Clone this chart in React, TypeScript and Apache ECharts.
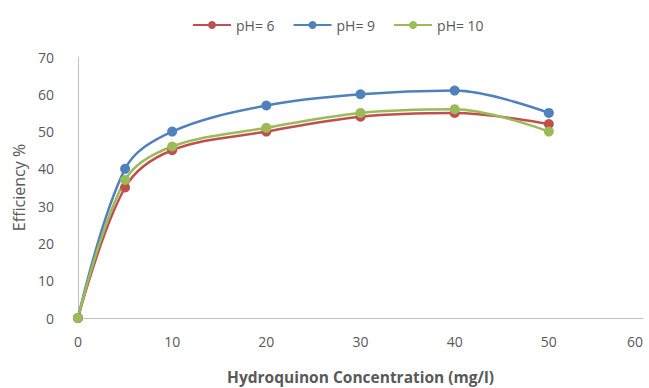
import React, { useEffect, useRef } from "react";
import * as echarts from "echarts";

// Hydroquinon concentration (mg/l)
const concentrations = [0, 5, 10, 20, 30, 40, 50];
// Removal efficiency (%) at each pH
const effPH6 = [0, 35, 45, 50, 54, 55, 52];
const effPH9 = [0, 40, 50, 57, 60, 61, 55];
const effPH10 = [0, 37, 46, 51, 55, 56, 50];

const seriesNames = ["pH= 6", "pH= 9", "pH= 10"];
const seriesColors = ["#C0504D", "#4F81BD", "#9BBB59"];

const FONT = "'Open Sans', 'Liberation Sans', sans-serif";
const TEXT = "#595959";

export default function App() {
  const ref = useRef<HTMLDivElement>(null);

  useEffect(() => {
    document.body.style.margin = "0";
    document.body.style.overflow = "hidden";
    if (!ref.current) return;
    const chart = echarts.init(ref.current, undefined, { renderer: "svg" });
    const all = [effPH6, effPH9, effPH10];
    chart.setOption({
      animation: false,
      backgroundColor: "#ffffff",
      textStyle: { fontFamily: FONT },
      legend: {
        top: 13,
        left: 187,
        itemWidth: 38,
        itemHeight: 10,
        itemGap: 18,
        textStyle: { color: TEXT, fontSize: 14, fontFamily: FONT },
        data: seriesNames,
      },
      grid: {
        left: 78,
        right: 6,
        top: 57,
        bottom: 70,
        containLabel: false,
        outerBoundsMode: "none",
      },
      xAxis: {
        type: "value",
        min: 0,
        max: 60,
        interval: 10,
        name: "Hydroquinon Concentration (mg/l)",
        nameLocation: "middle",
        nameGap: 50,
        nameTextStyle: {
          color: TEXT,
          fontSize: 15.5,
          lineHeight: 18,
          fontWeight: "bold",
          fontFamily: FONT,
        },
        axisLine: { lineStyle: { color: "#BFBFBF", width: 1 } },
        axisTick: { show: false },
        splitLine: { show: false },
        axisLabel: { color: TEXT, fontSize: 14, margin: 16, fontFamily: FONT, alignMaxLabel: "right" },
      },
      yAxis: {
        type: "value",
        min: 0,
        max: 70,
        interval: 10,
        name: "Efficiency %",
        nameLocation: "middle",
        nameGap: 50,
        nameTextStyle: { color: TEXT, fontSize: 16, fontFamily: FONT },
        axisLine: { show: true, lineStyle: { color: "#BFBFBF", width: 1 } },
        axisTick: { show: false },
        splitLine: { show: false },
        axisLabel: { color: TEXT, fontSize: 14, margin: 24, fontFamily: FONT },
      },
      series: all.map((vals, i) => ({
        name: seriesNames[i],
        type: "line",
        smooth: 0.35,
        symbol: "circle",
        symbolSize: 10,
        color: seriesColors[i],
        lineStyle: { width: 2.5, color: seriesColors[i] },
        itemStyle: { color: seriesColors[i] },
        data: concentrations.map((c, j) => [c, vals[j]]),
      })),
    });
    return () => chart.dispose();
  }, []);

  return <div ref={ref} style={{ width: 649, height: 388 }} />;
}
